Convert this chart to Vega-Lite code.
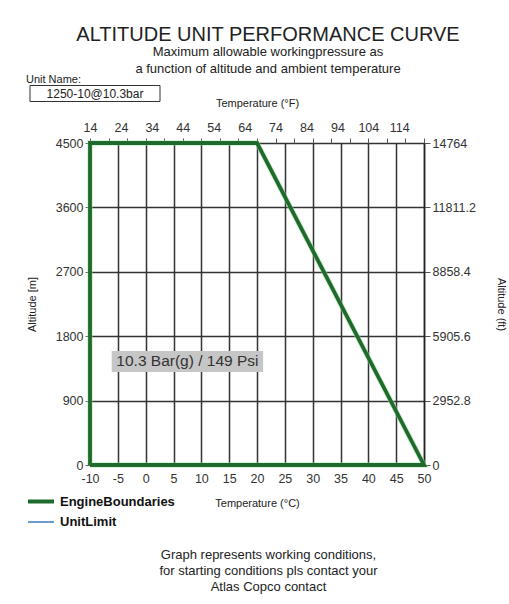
{
  "$schema": "https://vega.github.io/schema/vega-lite/v6.json",
  "width": 334,
  "height": 322,
  "autosize": {"type": "none"},
  "padding": {"left": 90, "top": 143, "right": 85, "bottom": 139},
  "background": "white",
  "config": {
    "font": "Liberation Sans",
    "view": {"stroke": null},
    "axis": {"labelColor": "#333", "titleColor": "#222", "titleFontWeight": "normal", "labelFontSize": 12.5, "titleFontSize": 11}
  },
  "title": {
    "text": "ALTITUDE UNIT PERFORMANCE CURVE",
    "subtitle": ["Maximum allowable workingpressure as", "a function of altitude and ambient temperature"],
    "fontSize": 20,
    "fontWeight": "normal",
    "color": "#222",
    "subtitleFontSize": 13,
    "subtitleColor": "#222",
    "subtitleLineHeight": 16.5,
    "subtitlePadding": 1,
    "anchor": "middle",
    "frame": "group",
    "dx": 11,
    "offset": -1.5
  },
  "datasets": {
    "boundary": [
      {"series": "EngineBoundaries", "ord": 1, "t": -10, "alt": 0},
      {"series": "EngineBoundaries", "ord": 2, "t": -10, "alt": 4500},
      {"series": "EngineBoundaries", "ord": 3, "t": 20, "alt": 4500},
      {"series": "EngineBoundaries", "ord": 4, "t": 50, "alt": 0},
      {"series": "EngineBoundaries", "ord": 5, "t": -10, "alt": 0}
    ],
    "labelbox": [{"t": -6.1, "t2": 21.1, "alt": 1300, "alt2": 1593}],
    "labeltext": [{"t": 7.5, "alt": 1450, "text": "10.3 Bar(g) / 149 Psi"}],
    "imperial": [{"F": 14, "ft": 0}, {"F": 122, "ft": 14764}],
    "unit": [{"unit": "1250-10@10.3bar"}]
  },
  "layer": [
    {
      "encoding": {
        "x": {
          "field": "t", "type": "quantitative",
          "scale": {"domain": [-10, 50], "nice": false, "zero": false},
          "axis": {
            "orient": "bottom",
            "values": [-10, -5, 0, 5, 10, 15, 20, 25, 30, 35, 40, 45, 50],
            "labelExpr": "'' + datum.value",
            "labelFlush": false, "labelOverlap": false,
            "grid": true, "gridColor": "#333", "gridWidth": 1.5,
            "ticks": false, "domain": false,
            "labelPadding": 7,
            "title": "Temperature (°C)", "titlePadding": 13
          }
        },
        "y": {
          "field": "alt", "type": "quantitative",
          "scale": {"domain": [0, 4500], "nice": false, "zero": false},
          "axis": {
            "orient": "left",
            "values": [0, 900, 1800, 2700, 3600, 4500],
            "labelExpr": "'' + datum.value",
            "labelOverlap": false,
            "grid": true, "gridColor": "#333", "gridWidth": 1.5,
            "ticks": true, "tickSize": 5, "tickColor": "#666",
            "domain": false, "labelPadding": 2,
            "title": "Altitude [m]", "titlePadding": 18
          }
        }
      },
      "layer": [
        {
          "data": {"name": "labelbox"},
          "mark": {"type": "rect", "color": "#c6c6c6"},
          "encoding": {"x2": {"field": "t2"}, "y2": {"field": "alt2"}}
        },
        {
          "data": {"name": "labeltext"},
          "mark": {"type": "text", "fontSize": 15.5, "color": "#333", "align": "center", "baseline": "middle"},
          "encoding": {"text": {"field": "text"}}
        },
        {
          "data": {"name": "boundary"},
          "mark": {"type": "line", "stroke": "#9be09b", "strokeWidth": 5.5, "opacity": 0.5},
          "encoding": {"order": {"field": "ord"}}
        },
        {
          "data": {"name": "boundary"},
          "mark": {"type": "line"},
          "encoding": {
            "order": {"field": "ord"},
            "stroke": {
              "field": "series", "type": "nominal",
              "scale": {"domain": ["EngineBoundaries", "UnitLimit"], "range": ["#1f6b2d", "#6a9bd0"]},
              "legend": {
                "title": null, "orient": "none", "legendX": -64, "legendY": 351,
                "padding": 0, "labelFontSize": 13, "labelFontWeight": "bold", "labelColor": "#111",
                "symbolType": "stroke", "symbolSize": 676, "labelOffset": 4, "rowPadding": 5.5, "clipHeight": 15
              }
            },
            "strokeWidth": {
              "field": "series", "type": "nominal",
              "scale": {"type": "ordinal", "domain": ["EngineBoundaries", "UnitLimit"], "range": [3.8, 1.8]},
              "legend": {
                "title": null, "orient": "none", "legendX": -64, "legendY": 351,
                "padding": 0, "labelFontSize": 13, "labelFontWeight": "bold", "labelColor": "#111",
                "symbolType": "stroke", "symbolSize": 676, "labelOffset": 4, "rowPadding": 5.5, "clipHeight": 15
              }
            }
          }
        }
      ]
    },
    {
      "data": {"name": "imperial"},
      "mark": {"type": "point", "opacity": 0},
      "encoding": {
        "x": {
          "field": "F", "type": "quantitative",
          "scale": {"domain": [14, 122], "nice": false, "zero": false},
          "axis": {
            "orient": "top",
            "values": [14, 24, 34, 44, 54, 64, 74, 84, 94, 104, 114],
            "labelFlush": false, "labelOverlap": false,
            "ticks": false, "domain": false, "grid": false,
            "labelPadding": 9,
            "title": "Temperature (°F)", "titlePadding": 13
          }
        },
        "y": {
          "field": "ft", "type": "quantitative",
          "scale": {"domain": [0, 14764], "nice": false, "zero": false},
          "axis": {
            "orient": "right",
            "values": [0, 2952.8, 5905.6, 8858.4, 11811.2, 14764],
            "labelExpr": "'' + datum.value",
            "labelOverlap": false,
            "ticks": true, "tickSize": 6, "tickColor": "#555",
            "domain": true, "domainColor": "#222", "domainWidth": 1.5,
            "grid": false, "labelPadding": 2,
            "title": "Altitude (ft)", "titlePadding": 20
          }
        }
      }
    },
    {
      "data": {"name": "imperial"},
      "mark": {"type": "point", "opacity": 0},
      "encoding": {
        "x": {
          "field": "F", "type": "quantitative",
          "scale": {"domain": [14, 122], "nice": false, "zero": false},
          "axis": {
            "orient": "top",
            "values": [14, 20, 26, 32, 38, 44, 50, 56, 62, 68, 74, 80, 86, 92, 98, 104, 110, 116, 122],
            "labels": false, "ticks": true, "tickSize": 5, "tickColor": "#555",
            "domain": false, "grid": false, "title": null
          }
        }
      }
    },
    {
      "data": {"name": "boundary"},
      "mark": {"type": "point", "opacity": 0},
      "encoding": {
        "x": {
          "field": "t", "type": "quantitative",
          "scale": {"domain": [-10, 50], "nice": false, "zero": false},
          "axis": {
            "orient": "bottom",
            "labels": false, "ticks": false, "domain": false, "grid": false,
            "title": ["Graph represents working conditions,", "for starting conditions pls contact your", "Atlas Copco contact"],
            "titleFontSize": 13, "titleLineHeight": 16, "titlePadding": 83, "titleX": 178
          }
        }
      }
    },
    {
      "data": {"name": "unit"},
      "mark": {"type": "point", "filled": false, "color": "#333", "opacity": 0},
      "encoding": {
        "shape": {
          "field": "unit", "type": "nominal",
          "scale": {"range": ["M-32.5,-4H32.5V4H-32.5Z"]},
          "legend": {
            "title": "Unit Name:", "orient": "none", "legendX": -64, "legendY": -69,
            "padding": 0,
            "titleFontSize": 11, "titleFontWeight": "normal", "titleColor": "#222", "titlePadding": 2.5,
            "symbolSize": 16, "symbolStrokeColor": "#333", "symbolStrokeWidth": 1, "symbolOpacity": 1,
            "symbolOffset": 63,
            "labelAlign": "center", "labelOffset": -6, "labelFontSize": 12, "labelColor": "#222"
          }
        }
      }
    }
  ],
  "resolve": {"scale": {"x": "independent", "y": "independent"}}
}
